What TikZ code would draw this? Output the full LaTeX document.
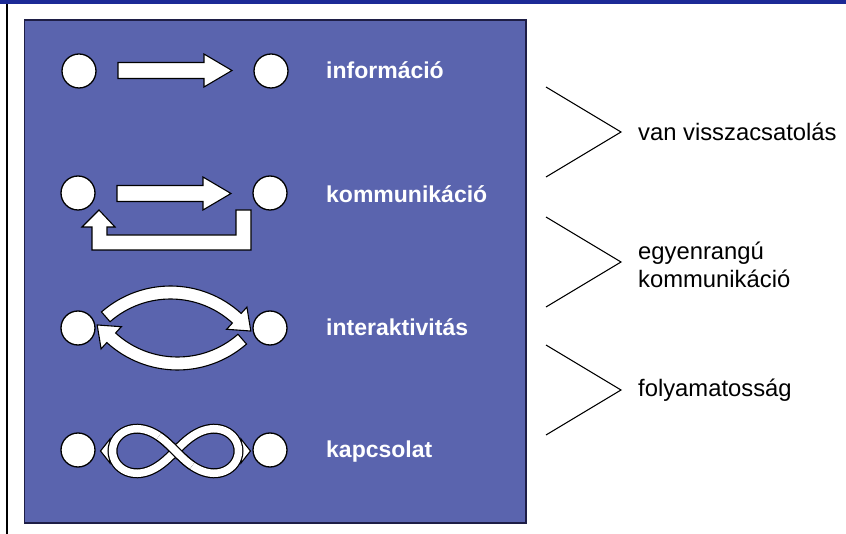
\documentclass[tikz,border=0pt]{standalone}
\usepackage{fontspec}
\setmainfont{Liberation Sans}
\usetikzlibrary{calc}
\definecolor{panelblue}{RGB}{90,100,174}
\definecolor{barblue}{RGB}{28,42,150}
\definecolor{edgenavy}{RGB}{30,30,70}
\begin{document}
\begin{tikzpicture}[x=1pt,y=-1pt,
  dot/.style={circle,draw=black,fill=white,line width=1.3pt,minimum size=34pt,inner sep=0pt},
  blockarrow/.style={draw=black,fill=white,line width=1.1pt,line join=miter},
  lab/.style={text=white,font=\bfseries\fontsize{23}{27}\selectfont,anchor=base west,inner sep=0pt},
  note/.style={text=black,font=\fontsize{23.8}{28}\selectfont,anchor=base west,inner sep=0pt},
  bracket/.style={draw=black,line width=1.1pt},
  bandout/.style={draw=black,line width=10pt},
  bandin/.style={draw=white,line width=7.5pt}]
\useasboundingbox (0,0) rectangle (846,534);
\fill[white] (0,0) rectangle (846,534);
\fill[barblue] (0,0) rectangle (846,4.5);
\draw[line width=1.5pt] (7,4.5) -- (7,534);
\draw[edgenavy, fill=panelblue, line width=1.5pt] (24.5,20) rectangle (526,523);

% row 1
\node[dot] (i1) at (79,71) {};
\node[dot] (i2) at (271,71) {};
\draw[blockarrow] (118,62.5) -- (204,62.5) -- (204,54) -- (232,70.5) -- (204,87) -- (204,78.5) -- (118,78.5) -- cycle;
\node[lab] (t1) at (326,79) {információ};

% row 2
\node[dot] (k1) at (78,193) {};
\node[dot] (k2) at (270,193) {};
\draw[blockarrow] (117,185.5) -- (203,185.5) -- (203,177) -- (231,193.5) -- (203,210) -- (203,201.5) -- (117,201.5) -- cycle;
\draw[blockarrow] (236,210) -- (251,210) -- (251,250) -- (92,250) -- (92,227) -- (82,227) -- (99,210) -- (115,227) -- (107,227) -- (107,235) -- (236,235) -- cycle;
\node[lab] (t2) at (326,203) {kommunikáció};

% row 3
\node[dot] (a1) at (78,328) {};
\node[dot] (a2) at (270,328) {};
\coordinate (C1) at (170.5,390.8);
\coordinate (C2) at (177.5,265.2);
\draw[blockarrow] ($(C1)+(-131.2:104.8)$) arc[start angle=-131.2,end angle=-47.6,radius=104.8]
  -- ($(C1)+(-47.6:113.3)$) -- ($(C1)+(-47.6:98.3)+(42.4:19)$) -- ($(C1)+(-47.6:83.3)$)
  -- ($(C1)+(-47.6:91.8)$) arc[start angle=-47.6,end angle=-131.2,radius=91.8] -- cycle;
\draw[blockarrow] ($(C2)+(48.8:104.8)$) arc[start angle=48.8,end angle=132.4,radius=104.8]
  -- ($(C2)+(132.4:113.3)$) -- ($(C2)+(132.4:98.3)+(222.4:19)$) -- ($(C2)+(132.4:83.3)$)
  -- ($(C2)+(132.4:91.8)$) arc[start angle=132.4,end angle=48.8,radius=91.8] -- cycle;
\node[lab] (t3) at (326,336) {interaktivitás};

% row 4
\node[dot] (c1) at (78,450) {};
\node[dot] (c2) at (270,450) {};
\draw[blockarrow] (110,439) -- (100.5,451) -- (110,463) -- cycle;
\draw[blockarrow] (241,439) -- (250.5,451) -- (241,463) -- cycle;
\draw[bandout] plot[smooth cycle,domain=0:357,samples=120,variable=\t]
  ({175.5+63*cos(\t)/(1+sin(\t)*sin(\t))},{451+63*sin(\t)*cos(\t)/(1+sin(\t)*sin(\t))});
\draw[bandin] plot[smooth cycle,domain=0:357,samples=120,variable=\t]
  ({175.5+63*cos(\t)/(1+sin(\t)*sin(\t))},{451+63*sin(\t)*cos(\t)/(1+sin(\t)*sin(\t))});
\draw[bandout] plot[smooth,domain=62:118,samples=30,variable=\t]
  ({175.5+63*cos(\t)/(1+sin(\t)*sin(\t))},{451+63*sin(\t)*cos(\t)/(1+sin(\t)*sin(\t))});
\draw[bandin] plot[smooth,domain=62:118,samples=30,variable=\t]
  ({175.5+63*cos(\t)/(1+sin(\t)*sin(\t))},{451+63*sin(\t)*cos(\t)/(1+sin(\t)*sin(\t))});
\node[lab] (t4) at (326,457) {kapcsolat};

% right side
\draw[bracket] (546,87) -- (621,132) -- (546,177);
\draw[bracket] (546,217) -- (621,262) -- (546,307);
\draw[bracket] (546,345) -- (621,390) -- (546,435);
\node[note] (n1) at (638,141) {van visszacsatolás};
\node[note] (n2a) at (638,260) {egyenrangú};
\node[note] (n2b) at (638,288) {kommunikáció};
\node[note] (n3) at (638,397) {folyamatosság};
\end{tikzpicture}
\end{document}
